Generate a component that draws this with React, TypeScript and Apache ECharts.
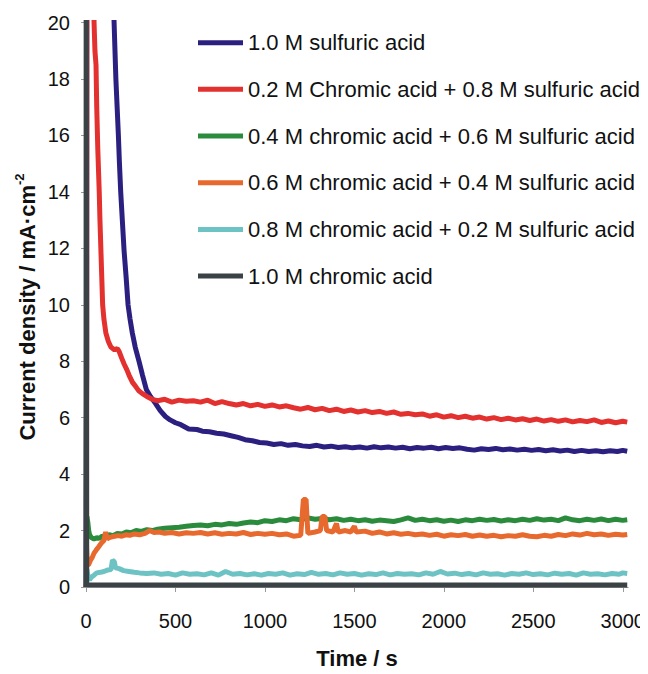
import React, { useEffect, useRef } from "react";
import * as echarts from "echarts";

const seriesNames = [
  "1.0 M sulfuric acid",
  "0.2 M Chromic acid + 0.8 M sulfuric acid",
  "0.4 M chromic acid + 0.6 M sulfuric acid",
  "0.6 M chromic acid + 0.4 M sulfuric acid",
  "0.8 M chromic acid + 0.2 M sulfuric acid",
  "1.0 M chromic acid",
];
const seriesColors = ["#2B2080", "#E3312F", "#2A8B3C", "#E8692E", "#6DC3C3", "#3A4245"];

const xTicks = [0, 500, 1000, 1500, 2000, 2500, 3000];

const sulfuric10: number[][] = [
  [0, 0], [2, 5.6], [4, 7.8], [5, 30], [150, 22], [157, 20], [162, 19], [167, 18], [174, 17], [181, 16],
  [187, 15], [194, 14], [203, 13], [213, 11.9], [224, 11], [235, 10], [246, 9.5], [259, 9], [275, 8.5],
  [296, 8.0], [316, 7.5], [337, 7.0], [360, 6.75], [389, 6.5], [415, 6.25], [444, 6.04], [470, 5.92],
  [500, 5.82], [530, 5.75], [574, 5.6], [620, 5.58], [650, 5.52], [690, 5.5], [730, 5.45], [770, 5.42],
  [810, 5.36], [850, 5.3], [889, 5.22], [930, 5.18], [970, 5.12], [1010, 5.1], [1050, 5.05], [1090, 5.08],
  [1130, 5.02], [1170, 5.05], [1210, 5.0], [1250, 4.98], [1290, 5.02], [1330, 4.96], [1370, 4.99],
  [1410, 4.94], [1450, 4.97], [1490, 4.93], [1530, 4.96], [1570, 4.92], [1610, 4.97], [1650, 4.93],
  [1690, 4.96], [1730, 4.92], [1770, 4.95], [1810, 4.9], [1850, 4.94], [1890, 4.92], [1930, 4.95],
  [1970, 4.9], [2010, 4.94], [2050, 4.91], [2090, 4.93], [2130, 4.88], [2170, 4.85], [2210, 4.9],
  [2250, 4.87], [2290, 4.91], [2330, 4.86], [2370, 4.89], [2410, 4.85], [2450, 4.88], [2490, 4.84],
  [2530, 4.87], [2570, 4.83], [2610, 4.86], [2650, 4.82], [2690, 4.85], [2730, 4.8], [2770, 4.84],
  [2810, 4.8], [2850, 4.83], [2890, 4.79], [2930, 4.83], [2970, 4.8], [3000, 4.84], [3025, 4.81],
];

const chromic02: number[][] = [
  [0, 0], [3, 0.5], [5, 30], [40, 22], [45, 20], [50, 19], [56, 18.5], [60, 17], [66, 15.5], [74, 14],
  [78, 13], [83, 12], [88, 11], [93, 10], [100, 9.5], [111, 9], [125, 8.7], [139, 8.5], [160, 8.4],
  [175, 8.45], [185, 8.35], [200, 8.1], [213, 7.9], [228, 7.7], [241, 7.5], [260, 7.25], [278, 7.1],
  [295, 6.95], [315, 6.85], [340, 6.75], [370, 6.65], [400, 6.6], [440, 6.65], [480, 6.55], [520, 6.62],
  [560, 6.58], [600, 6.6], [640, 6.55], [680, 6.62], [720, 6.5], [760, 6.57], [800, 6.5], [840, 6.45],
  [880, 6.5], [920, 6.42], [960, 6.47], [1000, 6.4], [1040, 6.45], [1080, 6.38], [1120, 6.42], [1160, 6.35],
  [1200, 6.3], [1240, 6.36], [1280, 6.28], [1320, 6.33], [1360, 6.25], [1400, 6.3], [1440, 6.22],
  [1480, 6.27], [1520, 6.2], [1560, 6.25], [1600, 6.18], [1640, 6.22], [1680, 6.15], [1720, 6.2],
  [1760, 6.12], [1800, 6.15], [1840, 6.1], [1880, 6.13], [1920, 6.05], [1960, 6.1], [2000, 6.02],
  [2040, 6.07], [2080, 6.0], [2120, 6.05], [2160, 5.98], [2200, 6.02], [2240, 5.95], [2280, 6.0],
  [2320, 5.93], [2360, 5.98], [2400, 5.92], [2440, 5.96], [2480, 5.9], [2520, 5.95], [2560, 5.88],
  [2600, 5.93], [2640, 5.87], [2680, 5.92], [2720, 5.85], [2760, 5.9], [2800, 5.86], [2840, 5.92],
  [2880, 5.83], [2920, 5.88], [2960, 5.82], [3000, 5.87], [3025, 5.84],
];

const chromic04: number[][] = [
  [5, 2.5], [10, 2.3], [15, 2.0], [20, 1.85], [30, 1.75], [45, 1.7], [60, 1.75], [75, 1.72], [90, 1.8],
  [110, 1.78], [130, 1.85], [150, 1.82], [175, 1.9], [200, 1.88], [225, 1.95], [250, 1.92], [280, 2.0],
  [310, 1.97], [340, 2.03], [370, 2.0], [400, 2.05], [440, 2.08], [480, 2.1], [520, 2.12], [560, 2.15],
  [600, 2.18], [640, 2.2], [680, 2.17], [720, 2.22], [760, 2.2], [800, 2.25], [840, 2.22], [880, 2.27],
  [920, 2.3], [960, 2.28], [1000, 2.35], [1040, 2.32], [1080, 2.38], [1120, 2.35], [1160, 2.42],
  [1200, 2.38], [1240, 2.45], [1280, 2.4], [1320, 2.43], [1360, 2.38], [1400, 2.42], [1440, 2.36],
  [1480, 2.4], [1520, 2.35], [1560, 2.38], [1600, 2.33], [1640, 2.37], [1680, 2.35], [1720, 2.32],
  [1760, 2.38], [1800, 2.45], [1840, 2.36], [1880, 2.4], [1920, 2.35], [1960, 2.38], [2000, 2.33],
  [2040, 2.37], [2080, 2.32], [2120, 2.38], [2160, 2.35], [2200, 2.4], [2240, 2.36], [2280, 2.39],
  [2320, 2.34], [2360, 2.38], [2400, 2.35], [2440, 2.4], [2480, 2.36], [2520, 2.42], [2560, 2.37],
  [2600, 2.4], [2640, 2.35], [2680, 2.45], [2720, 2.38], [2760, 2.35], [2800, 2.4], [2840, 2.36],
  [2880, 2.41], [2920, 2.35], [2960, 2.4], [3000, 2.36], [3025, 2.38],
];

const chromic06: number[][] = [
  [3, 1.4], [6, 0.9], [10, 0.78], [15, 0.8], [25, 0.95], [35, 1.05], [45, 1.2], [56, 1.3], [70, 1.42],
  [85, 1.55], [100, 1.65], [110, 1.95], [118, 1.7], [130, 1.75], [145, 1.78], [160, 1.8], [180, 1.82],
  [200, 1.8], [222, 1.85], [245, 1.83], [270, 1.88], [300, 1.85], [330, 1.9], [355, 2.0], [380, 1.93],
  [410, 1.95], [440, 1.9], [480, 1.93], [520, 1.88], [560, 1.92], [600, 1.9], [640, 1.93], [680, 1.88],
  [720, 1.92], [760, 1.87], [800, 1.9], [840, 1.88], [880, 1.93], [920, 1.86], [960, 1.9], [1000, 1.87],
  [1040, 1.9], [1080, 1.85], [1120, 1.88], [1160, 1.8], [1200, 1.83], [1215, 3.1], [1230, 3.1], [1240, 1.9],
  [1280, 1.95], [1310, 2.0], [1320, 2.5], [1335, 2.5], [1345, 2.0], [1380, 1.95], [1400, 2.25], [1410, 1.95],
  [1450, 2.0], [1480, 1.95], [1500, 2.15], [1510, 1.95], [1560, 1.98], [1600, 1.9], [1640, 1.95],
  [1680, 1.88], [1720, 1.92], [1760, 1.87], [1800, 1.9], [1840, 1.85], [1880, 1.88], [1920, 1.83],
  [1960, 1.87], [2000, 1.8], [2040, 1.85], [2080, 1.82], [2120, 1.86], [2160, 1.8], [2200, 1.84],
  [2240, 1.8], [2280, 1.83], [2320, 1.78], [2360, 1.82], [2400, 1.8], [2440, 1.85], [2480, 1.8],
  [2520, 1.78], [2560, 1.83], [2600, 1.8], [2640, 1.86], [2680, 1.82], [2720, 1.88], [2760, 1.84],
  [2800, 1.9], [2840, 1.85], [2880, 1.88], [2920, 1.83], [2960, 1.87], [3000, 1.84], [3025, 1.86],
];

const chromic08: number[][] = [
  [0, 0.05], [2, 0.65], [6, 0.6], [10, 0.4], [15, 0.3], [20, 0.25], [30, 0.35], [45, 0.42], [60, 0.5],
  [80, 0.52], [100, 0.55], [120, 0.6], [140, 0.62], [148, 0.95], [158, 0.9], [165, 0.68], [185, 0.65],
  [210, 0.58], [240, 0.55], [270, 0.52], [300, 0.5], [340, 0.48], [380, 0.5], [420, 0.45], [460, 0.48],
  [500, 0.42], [540, 0.5], [580, 0.45], [620, 0.47], [660, 0.43], [700, 0.5], [740, 0.42], [780, 0.55],
  [820, 0.45], [860, 0.48], [900, 0.43], [940, 0.47], [980, 0.42], [1020, 0.48], [1060, 0.45], [1100, 0.5],
  [1140, 0.42], [1180, 0.47], [1220, 0.44], [1260, 0.52], [1300, 0.45], [1340, 0.48], [1380, 0.43],
  [1420, 0.5], [1460, 0.45], [1500, 0.48], [1540, 0.42], [1580, 0.47], [1620, 0.44], [1660, 0.5],
  [1700, 0.43], [1740, 0.48], [1780, 0.45], [1820, 0.47], [1860, 0.43], [1900, 0.5], [1940, 0.45],
  [1980, 0.55], [2020, 0.46], [2060, 0.49], [2100, 0.44], [2140, 0.48], [2180, 0.43], [2220, 0.5],
  [2260, 0.45], [2300, 0.47], [2340, 0.42], [2380, 0.48], [2420, 0.45], [2460, 0.5], [2500, 0.44],
  [2540, 0.47], [2580, 0.43], [2620, 0.49], [2660, 0.45], [2700, 0.48], [2740, 0.42], [2780, 0.5],
  [2820, 0.45], [2860, 0.47], [2900, 0.43], [2940, 0.48], [2980, 0.45], [3000, 0.5], [3025, 0.48],
];

const chromic10: number[][] = [
  [0, 0], [1, 25], [3, 25], [4, 0.08], [500, 0.07], [1000, 0.07], [1500, 0.07], [2000, 0.07],
  [2500, 0.07], [3025, 0.07],
];

const allData = [sulfuric10, chromic02, chromic04, chromic06, chromic08, chromic10];

const FONT = "'Liberation Sans', Arial, Helvetica, sans-serif";

export default function App() {
  const ref = useRef<HTMLDivElement>(null);
  useEffect(() => {
    if (!ref.current) return;
    const chart = echarts.init(ref.current, undefined, { renderer: "svg" });
    chart.setOption({
      animation: false,
      backgroundColor: "#ffffff",
      grid: { left: 86, right: 18.6, top: 22.5, bottom: 81, containLabel: false },
      legend: {
        orient: "vertical",
        left: 198,
        top: 31.7,
        padding: 0,
        icon: "rect",
        itemWidth: 45,
        itemHeight: 5,
        itemGap: 24.67,
        selectedMode: false,
        data: seriesNames,
        textStyle: { fontSize: 22, lineHeight: 22, color: "#111", fontFamily: FONT },
      },
      xAxis: {
        type: "value",
        min: 0,
        max: 3030,
        name: "Time / s",
        nameLocation: "middle",
        nameGap: 60,
        nameTextStyle: { fontSize: 22, fontWeight: "bold", color: "#111", fontFamily: FONT },
        splitLine: { show: false },
        axisLine: { show: true, lineStyle: { color: "#999", width: 1 } },
        axisTick: { show: true, length: 5, customValues: xTicks, lineStyle: { color: "#999" } },
        axisLabel: {
          customValues: xTicks,
          fontSize: 20,
          color: "#111",
          margin: 24,
          fontFamily: FONT,
          formatter: (v: number) => String(v),
        },
      },
      yAxis: {
        type: "value",
        min: 0,
        max: 20,
        interval: 2,
        splitLine: { show: false },
        axisLine: { show: true, lineStyle: { color: "#999", width: 1 } },
        axisTick: { show: true, length: 5, lineStyle: { color: "#999" } },
        axisLabel: { fontSize: 20, color: "#111", margin: 16, fontFamily: FONT },
      },
      graphic: [
        {
          type: "text",
          x: 27,
          y: 307,
          rotation: Math.PI / 2,
          style: {
            text: "{a|Current density / mA·cm}{b|-2}",
            align: "center",
            verticalAlign: "middle",
            rich: {
              a: { fontSize: 22, fontWeight: "bold", fill: "#111", fontFamily: FONT },
              b: { fontSize: 13, fontWeight: "bold", fill: "#111", fontFamily: FONT, padding: [0, 0, 15, 0] },
            },
          },
        },
      ],
      series: allData.map((d, i) => ({
        name: seriesNames[i],
        type: "line",
        data: d,
        showSymbol: false,
        symbol: "none",
        color: seriesColors[i],
        lineStyle: { width: 5, color: seriesColors[i] },
        itemStyle: { color: seriesColors[i] },
        clip: true,
      })),
    });
    return () => chart.dispose();
  }, []);
  return <div ref={ref} style={{ width: 648, height: 674, margin: -8 }} />;
}
